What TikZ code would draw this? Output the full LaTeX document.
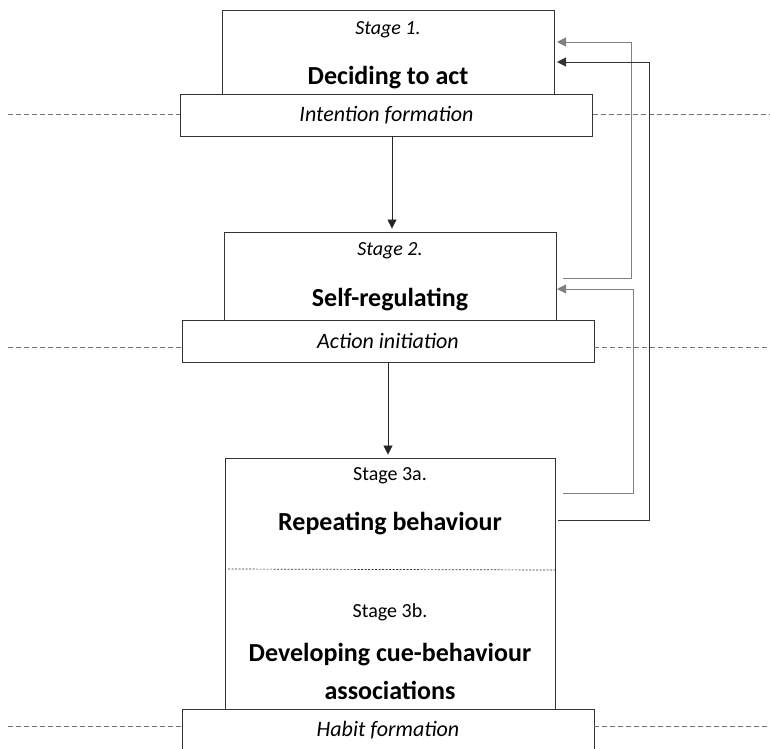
\documentclass[tikz,border=0pt]{standalone}
\usepackage{fontspec}
\setmainfont{Carlito}
\usetikzlibrary{arrows.meta}

\tikzset{
  stagebox/.style={draw=black!80,line width=0.9pt,fill=white,inner sep=0pt},
  barbox/.style={draw=black!80,line width=0.9pt,fill=white,inner sep=0pt,minimum width=412pt,minimum height=42pt,font=\fontsize{22}{26}\selectfont\itshape},
  stagelabel/.style={inner sep=0pt,font=\fontsize{20}{24}\selectfont},
  stagetitle/.style={inner sep=0pt,align=center,font=\fontsize{26}{38}\selectfont\bfseries},
  levelline/.style={draw=black!55,line width=0.8pt,dash pattern=on 5pt off 3pt},
  flow/.style={draw=black!85,line width=0.8pt,-{Triangle[length=9pt,width=9pt]}},
  feedback/.style={draw=black!50,line width=0.9pt},
}

\begin{document}
\begin{tikzpicture}[x=1pt,y=-1pt]
	\useasboundingbox (0,0) rectangle (770,748);

	% stages
	\node[stagebox,minimum width=332pt,minimum height=85pt] (s1) at (388,52.5) {};
	\node[stagebox,minimum width=332pt,minimum height=88pt] (s2) at (390,276) {};
	\node[stagebox,minimum width=330pt,minimum height=252pt] (s3) at (390,584) {};

	\node[stagelabel,font=\fontsize{20}{24}\selectfont\itshape] (s1lab) at (388,30) {Stage 1.};
	\node[stagetitle] (s1tit) at (388,78) {Deciding to act};
	\node[stagelabel,font=\fontsize{20}{24}\selectfont\itshape] (s2lab) at (390,251) {Stage 2.};
	\node[stagetitle] (s2tit) at (390,300) {Self-regulating};
	\node[stagelabel] (s3alab) at (390,476) {Stage 3a.};
	\node[stagetitle] (s3atit) at (390,524) {Repeating behaviour};
	\node[stagelabel] (s3blab) at (390,612) {Stage 3b.};
	\node[stagetitle] (s3btit) at (390,671) {Developing cue-behaviour\\associations};

	% transitions
	\node[barbox] (b1) at (386.5,115) {Intention formation};
	\node[barbox] (b2) at (388,341) {Action initiation};
	\node[barbox] (b3) at (388,730) {Habit formation};

	% dashed levels
	\coordinate (l1w) at (8,114);   \coordinate (l1e) at (770,114);
	\coordinate (l2w) at (8,347);   \coordinate (l2e) at (770,347);
	\coordinate (l3w) at (8,726);   \coordinate (l3e) at (770,726);
	\draw[levelline] (l1w) -- (b1.west |- l1w);
	\draw[levelline] (b1.east |- l1e) -- (l1e);
	\draw[levelline] (l2w) -- (b2.west |- l2w);
	\draw[levelline] (b2.east |- l2e) -- (l2e);
	\draw[levelline] (l3w) -- (b3.west |- l3w);
	\draw[levelline] (b3.east |- l3e) -- (l3e);

	% split of stage 3
	\coordinate (d3w) at (228,569);
	\coordinate (d3e) at (555,570);
	\draw[black!80,line width=0.7pt,dash pattern=on 2pt off 1.5pt] (d3w) -- (d3e);

	% forward arrows
	\draw[flow,shorten >=3pt] (b1.south -| 392,0) -- (s2.north -| 392,0);
	\draw[flow,shorten >=3pt] (b2.south) -- (s3.north -| b2.south);

	% feedback loops
	\coordinate (s2out) at (563,278);
	\coordinate (s3outa) at (563,493);
	\coordinate (s3outb) at (558,520);
	\coordinate (s1ina) at (557,42);
	\coordinate (s1inb) at (557,62);
	\coordinate (s2in) at (557,289);
	\draw[feedback,-{Triangle[length=9pt,width=9pt]}] (s2out) -- (631,278) -- (631,42) -- (s1ina);
	\draw[feedback,-{Triangle[length=9pt,width=9pt]}] (s3outa) -- (633,493) -- (633,289) -- (s2in);
	\draw[feedback,draw=black!80,-{Triangle[length=9pt,width=9pt]}] (s3outb) -- (649,520) -- (649,62) -- (s1inb);
\end{tikzpicture}
\end{document}
